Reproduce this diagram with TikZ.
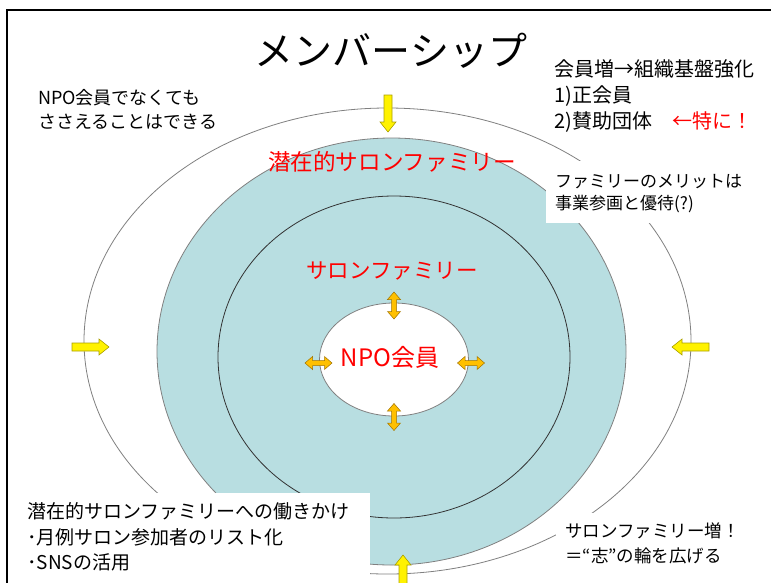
\documentclass[tikz,border=0pt]{standalone}
\usepackage{fontspec}
\setmainfont{Noto Sans CJK JP}
\usetikzlibrary{shapes.geometric}
\definecolor{famblue}{RGB}{184,222,225}
\definecolor{ringgray}{RGB}{128,128,128}
\definecolor{yarrline}{RGB}{170,160,0}
\definecolor{orgfill}{RGB}{255,192,0}
\definecolor{orgline}{RGB}{160,115,0}
\definecolor{txtred}{RGB}{255,0,0}
\begin{document}
\begin{tikzpicture}[x=1pt,y=-1pt,
  ring/.style={ellipse, inner sep=0pt, outer sep=0pt, line width=0.8pt},
  whitebox/.style={fill=white, draw=none},
  txt/.style={anchor=base west, inner sep=0pt, text=black},
  redlbl/.style={anchor=base, inner sep=0pt, text=txtred},
  yarr/.pic={\filldraw[fill=yellow, draw=yarrline, line width=0.6pt]
     (0,-4) -- (27,-4) -- (27,-8) -- (37,0) -- (27,8) -- (27,4) -- (0,4) -- cycle;},
  oarr/.pic={\filldraw[fill=orgfill, draw=orgline, line width=0.5pt]
     (-13.5,0) -- (-6,-6.5) -- (-6,-2.5) -- (6,-2.5) -- (6,-6.5) -- (13.5,0)
     -- (6,6.5) -- (6,2.5) -- (-6,2.5) -- (-6,6.5) -- cycle;}
]
\useasboundingbox (0,0) rectangle (771,582);
\fill[white] (0,0) rectangle (771,582);

% rings
\node[ring, draw=ringgray, minimum width=607pt, minimum height=466pt] (outer) at (387.5,341) {};
\node[ring, draw=ringgray, fill=famblue, minimum width=469pt, minimum height=427pt] (potential) at (391.5,351.5) {};
\node[ring, draw=black!80, fill=famblue, minimum width=352pt, minimum height=322pt] (family) at (394,357) {};
\node[ring, draw=ringgray, fill=white, minimum width=149pt, minimum height=113pt] (member) at (394,359.5) {};

% white boxes behind texts
\fill[whitebox] (25,78) rectangle (232,136);
\fill[whitebox] (546,161) rectangle (771,223);
\fill[whitebox] (7,493) rectangle (370,582);
\fill[whitebox] (556,513) rectangle (771,582);

% title
\node[anchor=base, inner sep=0pt, font=\fontsize{39}{44}\selectfont] (title) at (391,65) {メンバーシップ};

% top right
\node[txt, font=\fontsize{20}{24}\selectfont] (goal1) at (554,76) {会員増→組織基盤強化};
\node[txt, font=\fontsize{20}{24}\selectfont] (goal2) at (554,102) {1)正会員};
\node[txt, font=\fontsize{20}{24}\selectfont] (goal3) at (554,128) {2)賛助団体};
\node[txt, text=txtred, font=\fontsize{20}{24}\selectfont] (goal4) at (672,128) {←特に！};

% left top
\node[txt, font=\fontsize{18}{22}\selectfont] (sup1) at (38,104) {NPO会員でなくても};
\node[txt, font=\fontsize{18}{22}\selectfont] (sup2) at (38,128) {ささえることはできる};

% right middle
\node[txt, font=\fontsize{17}{21}\selectfont] (merit1) at (555,187) {ファミリーのメリットは};
\node[txt, font=\fontsize{17}{21}\selectfont] (merit2) at (555,209) {事業参画と優待(?)};

% bottom left
\node[txt, font=\fontsize{19}{23}\selectfont] (act1) at (27,518) {潜在的サロンファミリーへの働きかけ};
\node[txt, font=\fontsize{19}{23}\selectfont] (act2) at (27,544) {･月例サロン参加者のリスト化};
\node[txt, font=\fontsize{19}{23}\selectfont] (act3) at (27,569) {･SNSの活用};

% bottom right
\node[txt, font=\fontsize{17.5}{21}\selectfont] (grow1) at (565,537) {サロンファミリー増！};
\node[txt, font=\fontsize{17.5}{21}\selectfont] (grow2) at (565,562) {＝“志”の輪を広げる};

% red ring labels
\node[redlbl, font=\fontsize{22.6}{26}\selectfont] (potlbl) at (392,170) {潜在的サロンファミリー};
\node[redlbl, font=\fontsize{21.5}{26}\selectfont] (famlbl) at (392,278) {サロンファミリー};
\node[redlbl, font=\fontsize{24}{28}\selectfont] (npolbl) at (390,366) {NPO会員};

% yellow arrows
\pic[rotate=-90] at (388,95) {yarr};
\pic at (72,347) {yarr};
\pic[rotate=180] at (709,347) {yarr};
\pic[rotate=90] at (403,592) {yarr};

% orange double arrows
\pic[rotate=90] at (394,305.5) {oarr};
\pic[rotate=90] at (394,417) {oarr};
\pic at (318.5,363) {oarr};
\pic at (471,363) {oarr};

% frame
\draw[line width=1.5pt, black] (7,600) -- (7,10) -- (790,10);
\end{tikzpicture}
\end{document}
